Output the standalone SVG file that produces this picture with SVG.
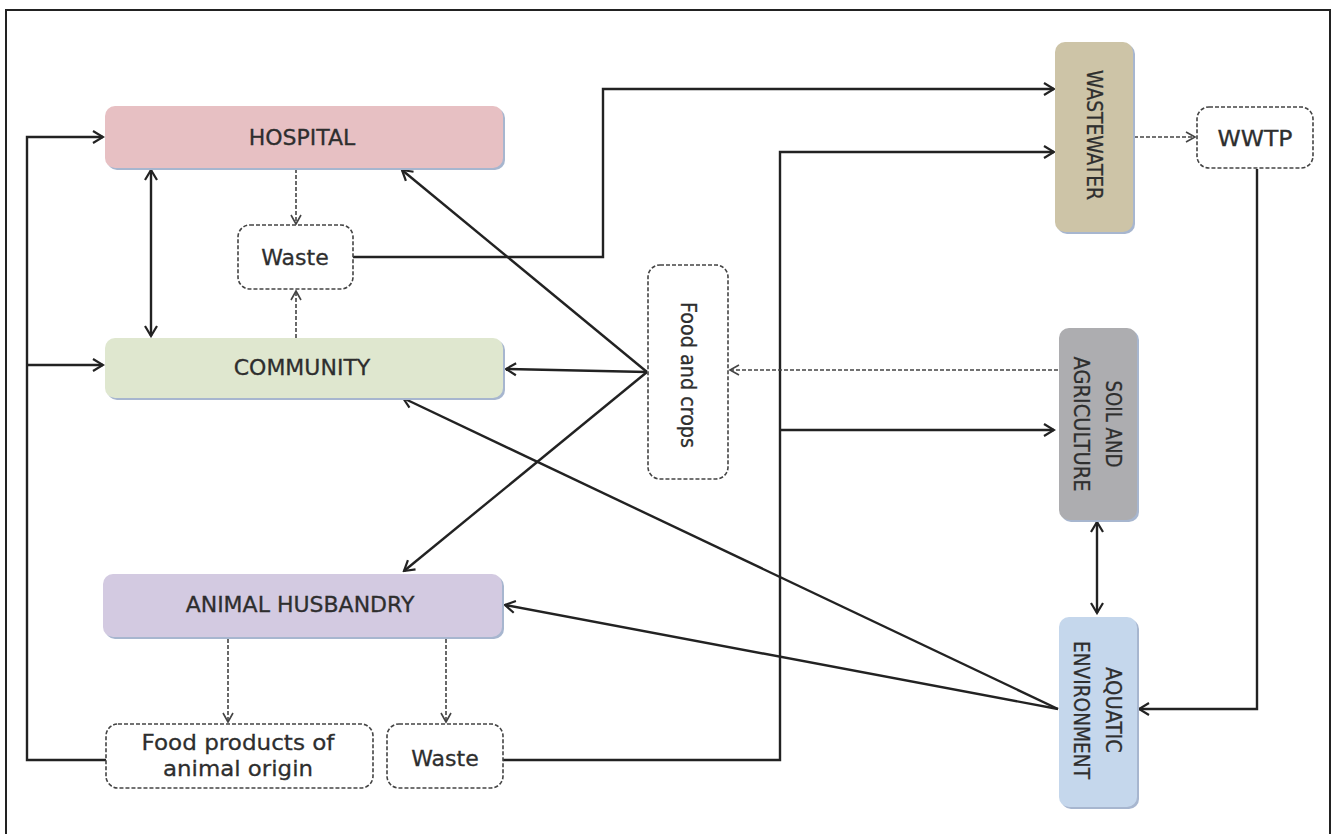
<svg xmlns="http://www.w3.org/2000/svg" width="1333" height="834" viewBox="0 0 1333 834">
<style>
.box{stroke:none}
.shadow{fill:#a7b6cf}
.dbox{fill:#fff;stroke:#444;stroke-width:1.6;stroke-dasharray:4 2}
.t{font-family:"DejaVu Sans","Liberation Sans",sans-serif;font-size:22px;fill:#2e2e2e;stroke:#2e2e2e;stroke-width:0.3;text-anchor:middle;dominant-baseline:central}
.tv{font-family:"DejaVu Sans","Liberation Sans",sans-serif;font-size:21px;fill:#2e2e2e;stroke:#2e2e2e;stroke-width:0.3;text-anchor:middle;dominant-baseline:central}
.s{fill:none;stroke:#222;stroke-width:2.4}
.d{fill:none;stroke:#444;stroke-width:1.6;stroke-dasharray:4 2}
</style>
<defs>
<marker id="a" viewBox="-12 -8 14 16" refX="0" refY="0" markerWidth="14" markerHeight="16" markerUnits="userSpaceOnUse" orient="auto-start-reverse">
<path d="M-10,-6 L0,0 L-10,6" fill="none" stroke="#222" stroke-width="2.2"/>
</marker>
<marker id="ad" viewBox="-12 -8 14 16" refX="0" refY="0" markerWidth="14" markerHeight="16" markerUnits="userSpaceOnUse" orient="auto-start-reverse">
<path d="M-9,-5 L0,0 L-9,5" fill="none" stroke="#444" stroke-width="1.6"/>
</marker>
</defs>
<rect width="1333" height="834" fill="#fff"/>
<rect x="6" y="10" width="1324" height="840" fill="none" stroke="#222" stroke-width="2"/>

<g id="connectors">
<path class="s" d="M106,760 H27 V137 H103" marker-end="url(#a)"/>
<path class="s" d="M27,365 H103" marker-end="url(#a)"/>
<path class="s" d="M151,170 V336" marker-start="url(#a)" marker-end="url(#a)"/>
<path class="d" d="M296,169 V224" marker-end="url(#ad)"/>
<path class="d" d="M296,338 V291" marker-end="url(#ad)"/>
<path class="s" d="M353,257 H603 V89 H1054" marker-end="url(#a)"/>
<path class="s" d="M503,760 H780 V152 H1054" marker-end="url(#a)"/>
<path class="s" d="M780,430 H1054" marker-end="url(#a)"/>
<path class="d" d="M1134,137 H1195" marker-end="url(#ad)"/>
<path class="s" d="M1257,169 V709 H1139" marker-end="url(#a)"/>
<path class="d" d="M1058,370 H730" marker-end="url(#ad)"/>
<path class="s" d="M647,372 L402,170" marker-end="url(#a)"/>
<path class="s" d="M647,372 L506,369" marker-end="url(#a)"/>
<path class="s" d="M647,372 L404,571" marker-end="url(#a)"/>
<path class="s" d="M1097,522 V613" marker-start="url(#a)" marker-end="url(#a)"/>
<path class="s" d="M1058,709 L403,398" marker-end="url(#a)"/>
<path class="s" d="M1058,709 L505,605" marker-end="url(#a)"/>
<path class="d" d="M228,639 V722" marker-end="url(#ad)"/>
<path class="d" d="M446,639 V722" marker-end="url(#ad)"/>
</g>

<g id="hospital">
<rect class="shadow" x="107" y="108" width="398" height="62" rx="10"/>
<rect class="box" x="105" y="106" width="398" height="62" rx="10" fill="#e7c0c3"/>
<text class="t" x="302" y="137">HOSPITAL</text>
</g>
<g id="waste-top">
<rect class="dbox" x="238" y="225" width="115" height="64" rx="12"/>
<text class="t" x="295" y="257">Waste</text>
</g>
<g id="community">
<rect class="shadow" x="107" y="340" width="398" height="60" rx="10"/>
<rect class="box" x="105" y="338" width="398" height="60" rx="10" fill="#dfe7cf"/>
<text class="t" x="302" y="367">COMMUNITY</text>
</g>
<g id="food-crops">
<rect class="dbox" x="648" y="265" width="80" height="214" rx="12"/>
<text class="tv" transform="translate(688,375) rotate(90)" textLength="146" lengthAdjust="spacingAndGlyphs">Food and crops</text>
</g>
<g id="animal-husbandry">
<rect class="shadow" x="105" y="576" width="399" height="63" rx="10"/>
<rect class="box" x="103" y="574" width="399" height="63" rx="10" fill="#d3cae1"/>
<text class="t" x="300" y="604">ANIMAL HUSBANDRY</text>
</g>
<g id="food-products">
<rect class="dbox" x="106" y="724" width="267" height="64" rx="12"/>
<text class="t" x="238" y="742" textLength="193" lengthAdjust="spacingAndGlyphs">Food products of</text>
<text class="t" x="238" y="768" textLength="150" lengthAdjust="spacingAndGlyphs">animal origin</text>
</g>
<g id="waste-bottom">
<rect class="dbox" x="387" y="724" width="116" height="64" rx="12"/>
<text class="t" x="445" y="758">Waste</text>
</g>
<g id="wastewater">
<rect class="shadow" x="1057" y="44" width="78" height="190" rx="10"/>
<rect class="box" x="1055" y="42" width="78" height="190" rx="10" fill="#cdc4a7"/>
<text class="tv" transform="translate(1094,135) rotate(90)" textLength="130" lengthAdjust="spacingAndGlyphs">WASTEWATER</text>
</g>
<g id="wwtp">
<rect class="dbox" x="1197" y="107" width="116" height="61" rx="12"/>
<text class="t" x="1255" y="138" textLength="75" lengthAdjust="spacingAndGlyphs">WWTP</text>
</g>
<g id="soil-agriculture">
<rect class="shadow" x="1061" y="330" width="78" height="192" rx="10"/>
<rect class="box" x="1059" y="328" width="78" height="192" rx="10" fill="#adadb0"/>
<text class="tv" transform="translate(1097,424) rotate(90)"><tspan x="0" y="-16" textLength="87" lengthAdjust="spacingAndGlyphs">SOIL AND</tspan><tspan x="0" y="16" textLength="135" lengthAdjust="spacingAndGlyphs">AGRICULTURE</tspan></text>
</g>
<g id="aquatic-environment">
<rect class="shadow" x="1061" y="619" width="78" height="190" rx="10"/>
<rect class="box" x="1059" y="617" width="78" height="190" rx="10" fill="#c5d7ec"/>
<text class="tv" transform="translate(1097,710) rotate(90)"><tspan x="0" y="-16" textLength="86" lengthAdjust="spacingAndGlyphs">AQUATIC</tspan><tspan x="0" y="16" textLength="138" lengthAdjust="spacingAndGlyphs">ENVIRONMENT</tspan></text>
</g>
</svg>
